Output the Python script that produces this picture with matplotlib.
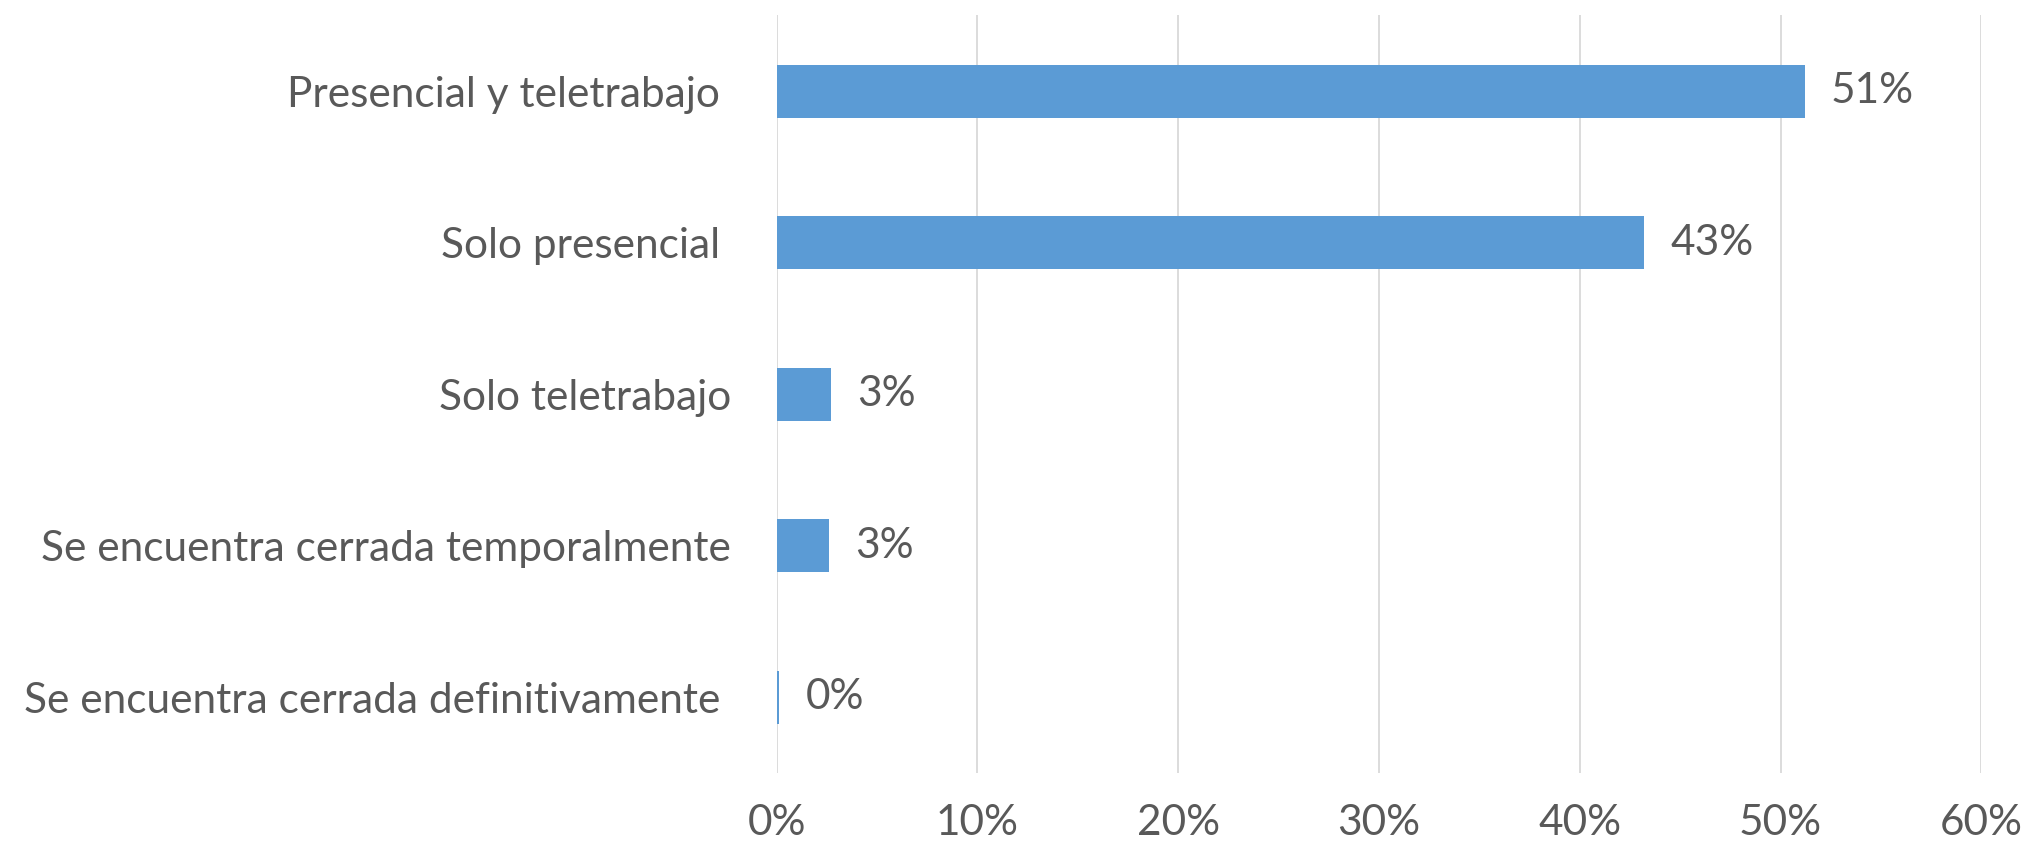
import matplotlib
matplotlib.use("Agg")
import matplotlib.pyplot as plt
from matplotlib.ticker import FuncFormatter

categories = [
    "Presencial y teletrabajo ",
    "Solo presencial ",
    "Solo teletrabajo",
    "Se encuentra cerrada temporalmente",
    "Se encuentra cerrada definitivamente ",
]
shares = [0.512, 0.432, 0.027, 0.026, 0.0013]
x_ticks = [0.0, 0.1, 0.2, 0.3, 0.4, 0.5, 0.6]

BAR_COLOR = "#5B9BD5"
TEXT_COLOR = "#595959"
GRID_COLOR = "#D9D9D9"
FONT = ["Lato", "DejaVu Sans"]
FS = 30.5

plt.rcParams["font.family"] = FONT

fig = plt.figure(figsize=(20.28, 8.49), dpi=100)
ax = fig.add_axes([0.383, 0.0895, 0.594, 0.8925])

pos = list(range(len(categories)))
ax.barh(pos, shares, height=0.35, color=BAR_COLOR, zorder=3)

for p, v in zip(pos, shares):
    ax.annotate(f"{v:.0%}", xy=(v, p), xytext=(19, 0), textcoords="offset points",
                va="center", ha="left", fontsize=FS, color=TEXT_COLOR)

ax.set_xlim(0, 0.6)
ax.set_ylim(len(categories) - 0.5, -0.5)
ax.set_xticks(x_ticks)
ax.xaxis.set_major_formatter(FuncFormatter(lambda v, _: f"{v:.0%}"))
ax.set_yticks(pos)
ax.set_yticklabels(categories)

ax.grid(axis="x", color=GRID_COLOR, linewidth=1.3, zorder=0)
ax.tick_params(axis="x", length=0, pad=22, labelsize=FS, labelcolor=TEXT_COLOR)
ax.tick_params(axis="y", length=0, pad=33, labelsize=FS, labelcolor=TEXT_COLOR)
for s in ax.spines.values():
    s.set_visible(False)

fig.savefig("out.png", dpi=100, facecolor="white")
